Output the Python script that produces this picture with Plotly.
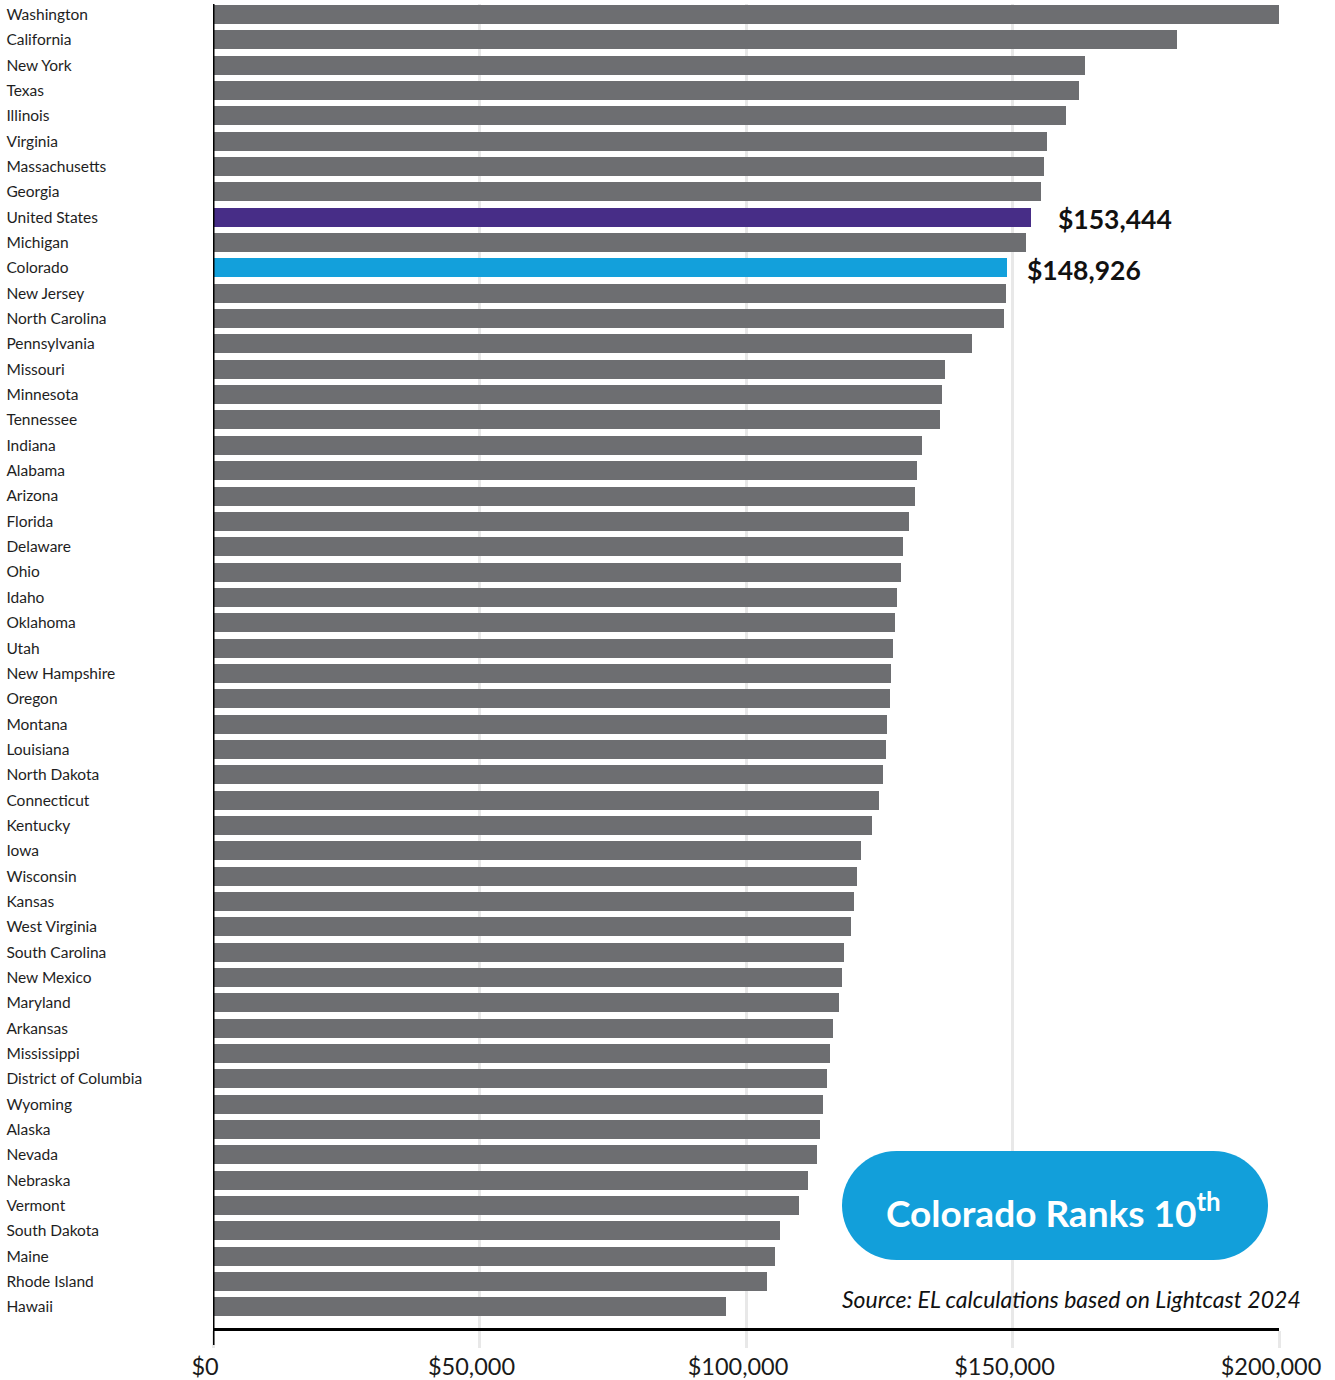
import plotly.graph_objects as go

# Median wage by state, highest to lowest
states = [
    "Washington", "California", "New York", "Texas", "Illinois", "Virginia",
    "Massachusetts", "Georgia", "United States", "Michigan", "Colorado",
    "New Jersey", "North Carolina", "Pennsylvania", "Missouri", "Minnesota",
    "Tennessee", "Indiana", "Alabama", "Arizona", "Florida", "Delaware",
    "Ohio", "Idaho", "Oklahoma", "Utah", "New Hampshire", "Oregon",
    "Montana", "Louisiana", "North Dakota", "Connecticut", "Kentucky",
    "Iowa", "Wisconsin", "Kansas", "West Virginia", "South Carolina",
    "New Mexico", "Maryland", "Arkansas", "Mississippi",
    "District of Columbia", "Wyoming", "Alaska", "Nevada", "Nebraska",
    "Vermont", "South Dakota", "Maine", "Rhode Island", "Hawaii",
]
values = [
    200000, 180900, 163600, 162500, 160000, 156500,
    155900, 155300, 153444, 152500, 148926,
    148800, 148400, 142400, 137300, 136800,
    136400, 133000, 132100, 131700, 130600, 129500,
    129100, 128300, 128000, 127600, 127200, 127000,
    126500, 126300, 125700, 125000, 123600,
    121600, 120800, 120300, 119700, 118400,
    118000, 117400, 116300, 115800,
    115200, 114400, 113900, 113300, 111600,
    109900, 106400, 105400, 103900, 96200,
]
tick_vals = [0, 50000, 100000, 150000, 200000]
tick_text = ["$0", "$50,000", "$100,000", "$150,000", "$200,000"]

highlight = {"United States": "#472d87", "Colorado": "#13a0db"}
labelled = ["United States", "Colorado"]
label_shift = {"United States": 25, "Colorado": 18}

W, H = 1335, 1380
M_T, M_B = 4, 52
plot_h = H - M_T - M_B


def py(pixel_y):
    """Page pixel row -> paper y."""
    return (H - M_B - pixel_y) / plot_h


colors = [highlight.get(s, "#6d6e71") for s in states]

fig = go.Figure(
    go.Bar(
        y=states,
        x=values,
        orientation="h",
        marker=dict(color=colors, line=dict(width=0)),
        width=0.75,
        hoverinfo="skip",
    )
)

# Dollar labels beside the highlighted bars
for s in labelled:
    v = values[states.index(s)]
    fig.add_annotation(
        x=v, y=s, xref="x", yref="y",
        text=f"<b>${v:,.0f}</b>",
        showarrow=False, xanchor="left", yanchor="middle",
        xshift=label_shift[s], yshift=-2,
        font=dict(family="Lato", size=26.5, color="#111111"),
    )

# Vertical zero axis, running a little below the baseline
fig.add_shape(
    type="line", xref="x", yref="paper",
    x0=0, x1=0, y0=1, y1=-17 / plot_h,
    line=dict(color="black", width=3), layer="above",
)

# Rounded "rank" badge
cx, cy = 1055, 1205.5
hw, hh = 213, 54.5
k = 0.5523 * hh
sx = hw - hh
path = (
    f"M {-sx},{-hh} L {sx},{-hh} "
    f"C {sx + k},{-hh} {hw},{-k} {hw},0 "
    f"C {hw},{k} {sx + k},{hh} {sx},{hh} "
    f"L {-sx},{hh} "
    f"C {-sx - k},{hh} {-hw},{k} {-hw},0 "
    f"C {-hw},{-k} {-sx - k},{-hh} {-sx},{-hh} Z"
)
fig.add_shape(
    type="path", path=path,
    xref="paper", yref="paper",
    xsizemode="pixel", ysizemode="pixel",
    xanchor=cx / W, yanchor=py(cy),
    fillcolor="#129fda", line=dict(width=0), layer="above",
)
fig.add_annotation(
    x=1053 / W, y=py(1210), xref="paper", yref="paper",
    text="<b>Colorado Ranks 10<sup>th</sup></b>",
    showarrow=False, xanchor="center", yanchor="middle",
    font=dict(family="Lato", size=37, color="white"),
)
fig.add_annotation(
    x=840 / W, y=py(1299), xref="paper", yref="paper",
    text="<i>Source: EL calculations based on Lightcast 2024</i>",
    showarrow=False, xanchor="left", yanchor="middle",
    font=dict(family="Lato", size=23, color="#111111"),
)

fig.update_layout(
    template="none",
    width=W, height=H,
    margin=dict(l=0, r=0, t=M_T, b=M_B, pad=0),
    paper_bgcolor="white", plot_bgcolor="white",
    showlegend=False,
    bargap=0,
    xaxis=dict(
        domain=[213 / W, 1279 / W],
        range=[0, 200000],
        tickvals=tick_vals, ticktext=tick_text,
        showgrid=True, gridcolor="#e8e8e8", gridwidth=2.5,
        zeroline=False,
        showline=True, linecolor="black", linewidth=3,
        ticks="outside", ticklen=17, tickwidth=2.5, tickcolor="#e8e8e8",
        ticklabelshift=-8, ticklabelstandoff=-1,
        tickfont=dict(family="Lato", size=23.5, color="#1a1a1a"),
        automargin=False, fixedrange=True,
    ),
    yaxis=dict(
        type="category",
        categoryorder="array", categoryarray=states,
        range=[51.83, -0.415],
        anchor="free", position=0.0018, side="left",
        ticklabelposition="inside", ticks="",
        showgrid=False, zeroline=False, showline=False,
        tickfont=dict(family="Lato", size=15.5, color="#1e1e1e"),
        automargin=False, fixedrange=True,
    ),
)

fig.write_html("out.html")
